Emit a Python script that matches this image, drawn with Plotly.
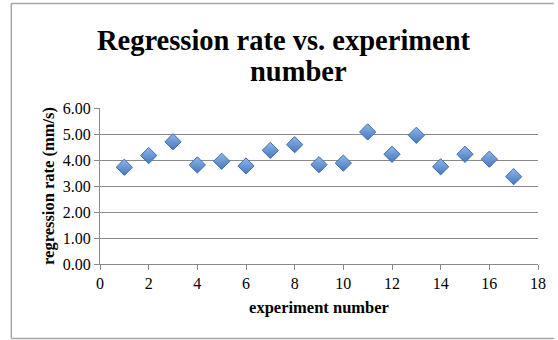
import plotly.graph_objects as go

# Regression rate measured for each experiment
experiment = list(range(1, 18))
rate_mm_s = [3.72, 4.17, 4.70, 3.81, 3.95, 3.77, 4.37, 4.59, 3.82, 3.88,
             5.08, 4.22, 4.95, 3.74, 4.22, 4.03, 3.36]

x_ticks = [0, 2, 4, 6, 8, 10, 12, 14, 16, 18]
y_ticks = [0, 1, 2, 3, 4, 5, 6]

title_lines = ["Regression rate vs. experiment", "number"]

W, H = 558, 340
L, R, T, B = 100, 16, 108, 76
pw, ph = W - L - R, H - T - B

def px_x(p):
    return (p - L) / pw

def px_y(p):
    return (H - B - p) / ph

SERIF = "Liberation Serif"
GRID = "#8a8a8a"
FRAME = "#a6a6a6"

fig = go.Figure()
fig.add_trace(go.Scatter(
    x=experiment, y=rate_mm_s, mode="markers",
    marker=dict(symbol="diamond", size=12.5, color="#8fb6ea",
                gradient=dict(type="vertical", color="#4677bd"),
                line=dict(color="#3f6fb0", width=1)),
    hoverinfo="x+y", showlegend=False,
))

# two-line title, each line centred on its own
title_pos = [(286, 40), (300, 71)]
annotations = [
    dict(text=f"<b>{txt}</b>", xref="paper", yref="paper",
         x=px_x(cx), y=px_y(cy), xanchor="center", yanchor="middle",
         showarrow=False, font=dict(family=SERIF, size=28.5, color="black"))
    for txt, (cx, cy) in zip(title_lines, title_pos)
]

# chart frame: left, top and bottom edges
frame = [
    dict(type="line", xref="paper", yref="paper",
         x0=px_x(10.5), x1=px_x(10.5), y0=px_y(3.5), y1=px_y(338.5),
         line=dict(color=FRAME, width=1.5), layer="below"),
    dict(type="line", xref="paper", yref="paper",
         x0=px_x(10.5), x1=px_x(W), y0=px_y(3.5), y1=px_y(3.5),
         line=dict(color=FRAME, width=1.5), layer="below"),
    dict(type="line", xref="paper", yref="paper",
         x0=px_x(10.5), x1=px_x(W), y0=px_y(338.5), y1=px_y(338.5),
         line=dict(color=FRAME, width=1.5), layer="below"),
]

fig.update_layout(
    width=W, height=H,
    margin=dict(l=L, r=R, t=T, b=B),
    paper_bgcolor="white", plot_bgcolor="white",
    font=dict(family=SERIF, color="black", size=16),
    annotations=annotations,
    shapes=frame,
    xaxis=dict(range=[0, 18], tickvals=x_ticks, ticktext=[str(v) for v in x_ticks],
               showgrid=False, zeroline=False, showline=True, linecolor=GRID,
               linewidth=1, ticks="outside", ticklen=5, tickcolor=GRID,
               tickfont=dict(size=16),
               title=dict(text="<b>experiment number</b>", font=dict(size=16.5), standoff=10)),
    yaxis=dict(range=[0, 6], tickvals=y_ticks, ticktext=[f"{v:.2f}" for v in y_ticks],
               showgrid=True, gridcolor=GRID, gridwidth=1, zeroline=False,
               showline=True, linecolor=GRID, linewidth=1,
               ticks="outside", ticklen=5, tickcolor=GRID,
               tickfont=dict(size=16),
               title=dict(text="<b>regression rate (mm/s)</b>", font=dict(size=16.5), standoff=4)),
)

fig.write_html("out.html")
